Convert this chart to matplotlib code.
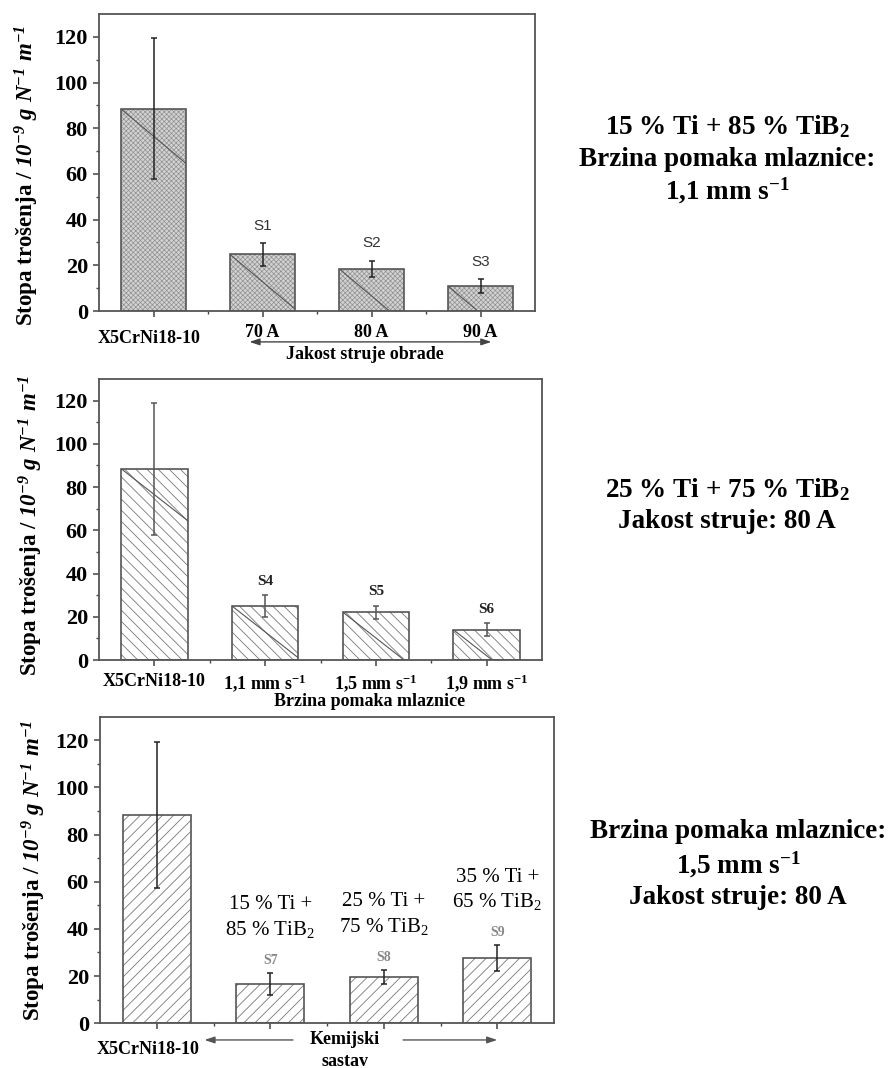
import matplotlib
matplotlib.use("Agg")
import matplotlib.pyplot as plt
import numpy as np
from matplotlib.transforms import ScaledTranslation

plt.rcParams['font.family'] = ['Liberation Serif', 'DejaVu Serif']
plt.rcParams['font.weight'] = 'bold'
plt.rcParams['axes.labelweight'] = 'bold'
plt.rcParams['mathtext.fontset'] = 'custom'
plt.rcParams['mathtext.rm'] = 'Liberation Serif:bold'
plt.rcParams['mathtext.it'] = 'Liberation Serif:italic:bold'
# bold-italic slot used for the unit part of the y label (digits included)
plt.rcParams['mathtext.bf'] = 'Liberation Serif:italic:bold'
plt.rcParams['hatch.linewidth'] = 0.6

# panel 1 - current (Jakost struje obrade)
cats_1 = ['X5CrNi18-10', '70 A', '80 A', '90 A']
vals_1 = [88.5, 24.8, 18.6, 11.0]
errs_1 = [30.8, 4.9, 3.5, 3.0]
tags_1 = ['', 'S1', 'S2', 'S3']

# panel 2 - nozzle speed (Brzina pomaka mlaznice)
cats_2 = ['X5CrNi18-10', '1,1 mm s$\\mathregular{^{-1}}$',
          '1,5 mm s$\\mathregular{^{-1}}$', '1,9 mm s$\\mathregular{^{-1}}$']
vals_2 = [88.5, 25.0, 22.2, 14.0]
errs_2 = [30.6, 4.9, 3.0, 3.0]
tags_2 = ['', 'S4', 'S5', 'S6']

# panel 3 - chemical composition (Kemijski sastav)
cats_3 = ['X5CrNi18-10', '', '', '']
vals_3 = [88.4, 16.5, 19.5, 27.5]
errs_3 = [30.9, 4.7, 3.0, 5.5]
tags_3 = ['', 'S7', 'S8', 'S9']
comp_top_3 = ['', '15 % Ti +', '25 % Ti +', '35 % Ti +']
comp_bot_3 = ['', '85 % TiB$\\mathregular{_2}$', '75 % TiB$\\mathregular{_2}$',
              '65 % TiB$\\mathregular{_2}$']

ylab = 'Stopa trošenja / $\\mathbf{10^{-9}\\ g\\ N^{-1}\\ m^{-1}}$'


def draw_panel(ax, cats, vals, errs, face, hatch, hcolor, ecolor, streak):
    x = np.arange(len(cats))
    bars = ax.bar(x, vals, width=0.6, color=face, edgecolor=hcolor, hatch=hatch,
                  linewidth=0.0, zorder=2)
    ax.bar(x, vals, width=0.6, fill=False, edgecolor='#555555', linewidth=1.2, zorder=3)
    if streak:
        for b in bars:
            x0, w, h = b.get_x(), b.get_width(), b.get_height()
            ln, = ax.plot([x0, x0 + 3 * w], [h, h - 40 * 3 * w], color='#555555',
                          lw=0.8, zorder=2.5)
            ln.set_clip_path(b)
    ax.errorbar(x, vals, yerr=errs, fmt='none', ecolor=ecolor, elinewidth=1.1,
                capsize=2.5, capthick=1.1, zorder=4)

    ax.set_xlim(-0.5, len(cats) - 0.5)
    ax.set_ylim(0, 130)
    ax.set_yticks(range(0, 121, 20))
    ax.set_yticks(range(10, 121, 20), minor=True)
    ax.set_xticks(x)
    ax.set_xticklabels(cats)
    ax.set_xticks(x[:-1] + 0.5, minor=True)
    ax.tick_params(which='major', direction='out', length=4, width=1.1, color='#444444')
    ax.tick_params(which='minor', direction='out', length=2.5, width=1.0, color='#444444')
    ax.tick_params(axis='y', labelsize=16, pad=4)
    ax.tick_params(axis='x', labelsize=13, pad=5)
    for s in ax.spines.values():
        s.set_color('#555555')
        s.set_linewidth(1.3)
    ax.set_ylabel(ylab, fontsize=16.5, fontweight='bold')
    ax.yaxis.label.set_va('center')
    return x


def shift_first_label(ax, fig, dx, dy):
    lbl = ax.get_xticklabels()[0]
    lbl.set_transform(lbl.get_transform() + ScaledTranslation(dx / 100, dy / 100, fig.dpi_scale_trans))


def main():
    fig = plt.figure(figsize=(8.89, 10.68), dpi=100)
    ax1 = fig.add_axes([0.1114, 0.7088, 0.4904, 0.2781])
    ax2 = fig.add_axes([0.1114, 0.3820, 0.4983, 0.2631])
    ax3 = fig.add_axes([0.1125, 0.0419, 0.5107, 0.2871])

    # panel 1
    plt.rcParams['hatch.linewidth'] = 0.45
    x1 = draw_panel(ax1, cats_1, vals_1, errs_1, '#d2d2d2', 'xxxxxxx', '#8c8c8c', '#222222', True)
    plt.rcParams['hatch.linewidth'] = 0.6
    ax1.yaxis.set_label_coords(-0.165, 0.455)
    for xi, v, e, t in zip(x1, vals_1, errs_1, tags_1):
        if t:
            ax1.text(xi, v + e + 7.5, t, ha='center', va='center', fontsize=11,
                     family='Liberation Sans', fontweight='normal', color='#333333')
    tr1 = ax1.get_xaxis_transform()
    ax1.annotate('', xy=(3.1, -0.104), xytext=(0.88, -0.104), xycoords=tr1,
                 arrowprops=dict(arrowstyle='<|-|>,head_length=0.6,head_width=0.2',
                                 color='#444444', lw=1, shrinkA=0, shrinkB=0),
                 annotation_clip=False)
    ax1.text(1.94, -0.148, 'Jakost struje obrade', transform=tr1, ha='center',
             va='center', fontsize=13)

    # panel 2
    x2 = draw_panel(ax2, cats_2, vals_2, errs_2, 'white', '\\\\\\', '#777777', '#555555', True)
    ax2.yaxis.set_label_coords(-0.153, 0.48)
    for xi, v, e, t in zip(x2, vals_2, errs_2, tags_2):
        if t:
            ax2.text(xi, v + e + 6.5, t, ha='center', va='center', fontsize=11,
                     color='#222222')
    tr2 = ax2.get_xaxis_transform()
    ax2.text(1.94, -0.148, 'Brzina pomaka mlaznice', transform=tr2, ha='center',
             va='center', fontsize=13)

    # panel 3
    x3 = draw_panel(ax3, cats_3, vals_3, errs_3, 'white', '///', '#777777', '#222222', False)
    ax3.yaxis.set_label_coords(-0.145, 0.498)
    for xi, v, e, t, c1, c2 in zip(x3, vals_3, errs_3, tags_3, comp_top_3, comp_bot_3):
        if t:
            ax3.text(xi, v + e + 5.5, t, ha='center', va='center', fontsize=10,
                     color='#888888')
            ax3.text(xi, v + e + 18.5, c2, ha='center', va='center', fontsize=15,
                     fontweight='normal')
            ax3.text(xi, v + e + 29.0, c1, ha='center', va='center', fontsize=15,
                     fontweight='normal')
    tr3 = ax3.get_xaxis_transform()
    arrow3 = dict(arrowstyle='-|>,head_length=0.6,head_width=0.2', color='#555555',
                  lw=1, shrinkA=0, shrinkB=0)
    ax3.annotate('', xy=(0.42, -0.0545), xytext=(1.2, -0.0545), xycoords=tr3,
                 arrowprops=arrow3, annotation_clip=False)
    ax3.annotate('', xy=(3.0, -0.0545), xytext=(2.17, -0.0545), xycoords=tr3,
                 arrowprops=arrow3, annotation_clip=False)
    ax3.text(1.66, -0.0545, 'Kemijski', transform=tr3, ha='center', va='center', fontsize=13)
    ax3.text(1.66, -0.125, 'sastav', transform=tr3, ha='center', va='center', fontsize=13)

    shift_first_label(ax1, fig, -4, -6)
    shift_first_label(ax3, fig, -9, -5)

    # side notes
    W, H = 889.0, 1068.0
    notes = [
        (727, 127, '15 % Ti + 85 % TiB$\\mathregular{_2}$'),
        (727, 159, 'Brzina pomaka mlaznice:'),
        (727, 191, '1,1 mm s$\\mathregular{^{-1}}$'),
        (727, 490, '25 % Ti + 75 % TiB$\\mathregular{_2}$'),
        (727, 522, 'Jakost struje: 80 A'),
        (738, 832, 'Brzina pomaka mlaznice:'),
        (738, 865, '1,5 mm s$\\mathregular{^{-1}}$'),
        (738, 897, 'Jakost struje: 80 A'),
    ]
    for px, py, s in notes:
        fig.text(px / W, 1 - py / H, s, ha='center', va='center', fontsize=19.5)

    fig.savefig('out.png', dpi=100)


if __name__ == '__main__':
    main()
